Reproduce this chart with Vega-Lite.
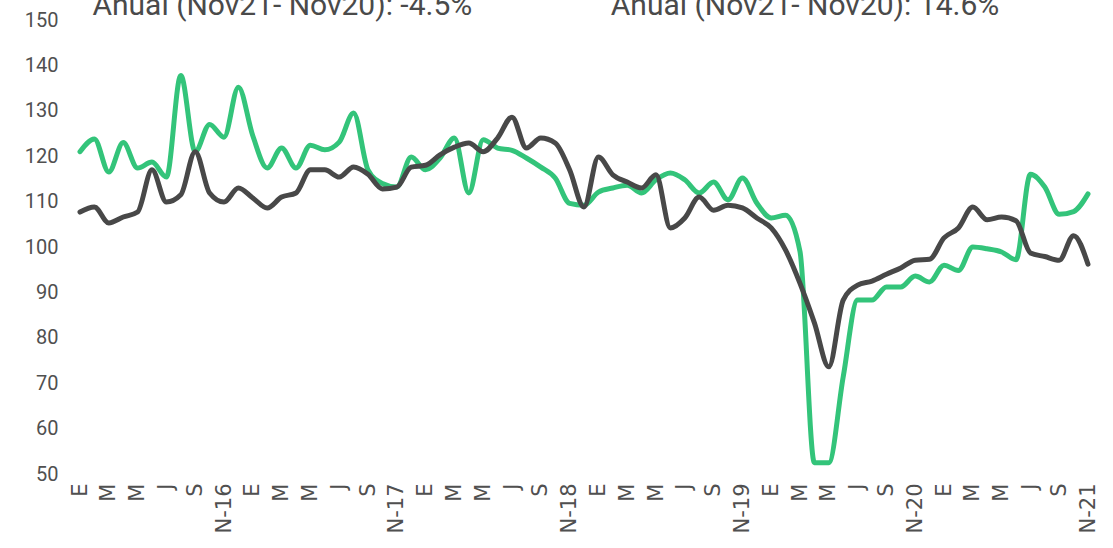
{
  "$schema": "https://vega.github.io/schema/vega-lite/v6.json",
  "width": 1008,
  "height": 454,
  "autosize": "none",
  "padding": {"left": 80, "top": 20, "right": 25, "bottom": 74},
  "background": "white",
  "config": {"view": {"stroke": null}, "font": "Roboto"},
  "datasets": {
    "series": [
      {"mes":"2016-01","serie":"verde","valor":121},{"mes":"2016-02","serie":"verde","valor":123.8},{"mes":"2016-03","serie":"verde","valor":116.5},{"mes":"2016-04","serie":"verde","valor":123},{"mes":"2016-05","serie":"verde","valor":117.4},{"mes":"2016-06","serie":"verde","valor":118.7},{"mes":"2016-07","serie":"verde","valor":115.4},{"mes":"2016-08","serie":"verde","valor":137.8},{"mes":"2016-09","serie":"verde","valor":121},{"mes":"2016-10","serie":"verde","valor":127},{"mes":"2016-11","serie":"verde","valor":124.2},{"mes":"2016-12","serie":"verde","valor":135.2},
      {"mes":"2017-01","serie":"verde","valor":124.5},{"mes":"2017-02","serie":"verde","valor":117.4},{"mes":"2017-03","serie":"verde","valor":121.8},{"mes":"2017-04","serie":"verde","valor":117.4},{"mes":"2017-05","serie":"verde","valor":122.4},{"mes":"2017-06","serie":"verde","valor":121.4},{"mes":"2017-07","serie":"verde","valor":123.1},{"mes":"2017-08","serie":"verde","valor":129.5},{"mes":"2017-09","serie":"verde","valor":117},{"mes":"2017-10","serie":"verde","valor":114},{"mes":"2017-11","serie":"verde","valor":113.2},{"mes":"2017-12","serie":"verde","valor":119.8},
      {"mes":"2018-01","serie":"verde","valor":117},{"mes":"2018-02","serie":"verde","valor":119.6},{"mes":"2018-03","serie":"verde","valor":124},{"mes":"2018-04","serie":"verde","valor":111.9},{"mes":"2018-05","serie":"verde","valor":123.6},{"mes":"2018-06","serie":"verde","valor":121.8},{"mes":"2018-07","serie":"verde","valor":121.3},{"mes":"2018-08","serie":"verde","valor":119.6},{"mes":"2018-09","serie":"verde","valor":117.6},{"mes":"2018-10","serie":"verde","valor":115.2},{"mes":"2018-11","serie":"verde","valor":109.6},{"mes":"2018-12","serie":"verde","valor":109.2},
      {"mes":"2019-01","serie":"verde","valor":112.1},{"mes":"2019-02","serie":"verde","valor":113},{"mes":"2019-03","serie":"verde","valor":113.6},{"mes":"2019-04","serie":"verde","valor":111.9},{"mes":"2019-05","serie":"verde","valor":114.8},{"mes":"2019-06","serie":"verde","valor":116.3},{"mes":"2019-07","serie":"verde","valor":114.8},{"mes":"2019-08","serie":"verde","valor":111.9},{"mes":"2019-09","serie":"verde","valor":114.3},{"mes":"2019-10","serie":"verde","valor":110.4},{"mes":"2019-11","serie":"verde","valor":115.2},{"mes":"2019-12","serie":"verde","valor":109.7},
      {"mes":"2020-01","serie":"verde","valor":106.4},{"mes":"2020-02","serie":"verde","valor":107},{"mes":"2020-03","serie":"verde","valor":99},{"mes":"2020-04","serie":"verde","valor":52.5},{"mes":"2020-05","serie":"verde","valor":52.5},{"mes":"2020-06","serie":"verde","valor":71.4},{"mes":"2020-07","serie":"verde","valor":88.3},{"mes":"2020-08","serie":"verde","valor":88.3},{"mes":"2020-09","serie":"verde","valor":91.2},{"mes":"2020-10","serie":"verde","valor":91.2},{"mes":"2020-11","serie":"verde","valor":93.6},{"mes":"2020-12","serie":"verde","valor":92.3},
      {"mes":"2021-01","serie":"verde","valor":96},{"mes":"2021-02","serie":"verde","valor":94.8},{"mes":"2021-03","serie":"verde","valor":100},{"mes":"2021-04","serie":"verde","valor":99.6},{"mes":"2021-05","serie":"verde","valor":98.9},{"mes":"2021-06","serie":"verde","valor":97.2},{"mes":"2021-07","serie":"verde","valor":116},{"mes":"2021-08","serie":"verde","valor":113.2},{"mes":"2021-09","serie":"verde","valor":107.2},{"mes":"2021-10","serie":"verde","valor":107.8},{"mes":"2021-11","serie":"verde","valor":111.7},
      {"mes":"2016-01","serie":"gris","valor":107.7},{"mes":"2016-02","serie":"gris","valor":108.8},{"mes":"2016-03","serie":"gris","valor":105.3},{"mes":"2016-04","serie":"gris","valor":106.6},{"mes":"2016-05","serie":"gris","valor":107.7},{"mes":"2016-06","serie":"gris","valor":117},{"mes":"2016-07","serie":"gris","valor":109.9},{"mes":"2016-08","serie":"gris","valor":111.5},{"mes":"2016-09","serie":"gris","valor":121},{"mes":"2016-10","serie":"gris","valor":111.9},{"mes":"2016-11","serie":"gris","valor":109.9},{"mes":"2016-12","serie":"gris","valor":113},
      {"mes":"2017-01","serie":"gris","valor":110.8},{"mes":"2017-02","serie":"gris","valor":108.6},{"mes":"2017-03","serie":"gris","valor":111},{"mes":"2017-04","serie":"gris","valor":111.9},{"mes":"2017-05","serie":"gris","valor":117},{"mes":"2017-06","serie":"gris","valor":117},{"mes":"2017-07","serie":"gris","valor":115.4},{"mes":"2017-08","serie":"gris","valor":117.6},{"mes":"2017-09","serie":"gris","valor":116},{"mes":"2017-10","serie":"gris","valor":112.8},{"mes":"2017-11","serie":"gris","valor":113.2},{"mes":"2017-12","serie":"gris","valor":117.6},
      {"mes":"2018-01","serie":"gris","valor":118},{"mes":"2018-02","serie":"gris","valor":120.3},{"mes":"2018-03","serie":"gris","valor":122},{"mes":"2018-04","serie":"gris","valor":122.9},{"mes":"2018-05","serie":"gris","valor":121},{"mes":"2018-06","serie":"gris","valor":124},{"mes":"2018-07","serie":"gris","valor":128.6},{"mes":"2018-08","serie":"gris","valor":121.8},{"mes":"2018-09","serie":"gris","valor":124},{"mes":"2018-10","serie":"gris","valor":122.9},{"mes":"2018-11","serie":"gris","valor":117},{"mes":"2018-12","serie":"gris","valor":108.8},
      {"mes":"2019-01","serie":"gris","valor":119.8},{"mes":"2019-02","serie":"gris","valor":115.9},{"mes":"2019-03","serie":"gris","valor":114.3},{"mes":"2019-04","serie":"gris","valor":113},{"mes":"2019-05","serie":"gris","valor":115.9},{"mes":"2019-06","serie":"gris","valor":104.2},{"mes":"2019-07","serie":"gris","valor":106.4},{"mes":"2019-08","serie":"gris","valor":111},{"mes":"2019-09","serie":"gris","valor":108.1},{"mes":"2019-10","serie":"gris","valor":109.2},{"mes":"2019-11","serie":"gris","valor":108.6},{"mes":"2019-12","serie":"gris","valor":106.4},
      {"mes":"2020-01","serie":"gris","valor":104.2},{"mes":"2020-02","serie":"gris","valor":99.3},{"mes":"2020-03","serie":"gris","valor":92},{"mes":"2020-04","serie":"gris","valor":83.3},{"mes":"2020-05","serie":"gris","valor":73.6},{"mes":"2020-06","serie":"gris","valor":88.3},{"mes":"2020-07","serie":"gris","valor":91.6},{"mes":"2020-08","serie":"gris","valor":92.5},{"mes":"2020-09","serie":"gris","valor":94},{"mes":"2020-10","serie":"gris","valor":95.4},{"mes":"2020-11","serie":"gris","valor":97.1},{"mes":"2020-12","serie":"gris","valor":97.3},
      {"mes":"2021-01","serie":"gris","valor":102},{"mes":"2021-02","serie":"gris","valor":104.2},{"mes":"2021-03","serie":"gris","valor":108.8},{"mes":"2021-04","serie":"gris","valor":106},{"mes":"2021-05","serie":"gris","valor":106.6},{"mes":"2021-06","serie":"gris","valor":105.8},{"mes":"2021-07","serie":"gris","valor":98.7},{"mes":"2021-08","serie":"gris","valor":97.9},{"mes":"2021-09","serie":"gris","valor":97.1},{"mes":"2021-10","serie":"gris","valor":102.5},{"mes":"2021-11","serie":"gris","valor":96.2}
    ],
    "notas": [
      {"mes":"2016-02","valor":151.2,"texto":"Anual (Nov21- Nov20): -4.5%"},
      {"mes":"2019-02","valor":151.2,"texto":"Anual (Nov21- Nov20): 14.6%"}
    ]
  },
  "layer": [
    {
      "data": {"name": "series"},
      "mark": {"type": "line", "interpolate": "monotone", "strokeWidth": 5, "strokeCap": "round", "strokeJoin": "round"},
      "encoding": {
        "x": {
          "field": "mes", "type": "ordinal", "sort": null,
          "scale": {"type": "point", "padding": 0},
          "axis": {
            "title": null, "domain": false, "ticks": false, "grid": false,
            "values": ["2016-01","2016-03","2016-05","2016-07","2016-09","2016-11","2017-01","2017-03","2017-05","2017-07","2017-09","2017-11","2018-01","2018-03","2018-05","2018-07","2018-09","2018-11","2019-01","2019-03","2019-05","2019-07","2019-09","2019-11","2020-01","2020-03","2020-05","2020-07","2020-09","2020-11","2021-01","2021-03","2021-05","2021-07","2021-09","2021-11"],
            "labelExpr": "slice(datum.value,5)=='11' ? 'N-' + slice(datum.value,2,4) : ['E','F','M','A','M','J','J','A','S','O','N','D'][toNumber(slice(datum.value,5))-1]",
            "labelAngle": 270, "labelAlign": "right", "labelBaseline": "middle",
            "labelPadding": 9, "labelFontSize": 21, "labelColor": "#505050", "labelFont": "DejaVu Sans",
            "labelOverlap": false
          }
        },
        "y": {
          "field": "valor", "type": "quantitative",
          "scale": {"domain": [50, 150], "nice": false, "zero": false},
          "axis": {
            "title": null, "domain": false, "ticks": false, "grid": false,
            "values": [50,60,70,80,90,100,110,120,130,140,150],
            "labelFontSize": 20, "labelColor": "#505050", "labelFont": "Roboto", "labelPadding": 22
          }
        },
        "color": {
          "field": "serie", "type": "nominal", "legend": null,
          "scale": {"domain": ["verde","gris"], "range": ["#33C47A","#484848"]}
        }
      }
    },
    {
      "data": {"name": "notas"},
      "mark": {"type": "text", "align": "left", "baseline": "alphabetic", "dx": -2, "fontSize": 30, "font": "Roboto", "color": "#4a4a4a"},
      "encoding": {
        "x": {"field": "mes", "type": "ordinal", "sort": null},
        "y": {"field": "valor", "type": "quantitative"},
        "text": {"field": "texto"}
      }
    }
  ]
}
